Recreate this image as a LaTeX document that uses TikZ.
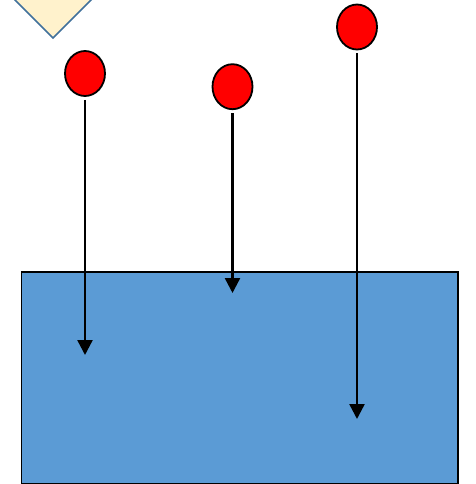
\documentclass[tikz,border=0pt]{standalone}
\usetikzlibrary{arrows.meta}
\usetikzlibrary{shapes.geometric}
\definecolor{cream}{HTML}{FFF2CC}
\definecolor{dborder}{HTML}{41719C}
\definecolor{boxblue}{HTML}{5B9BD5}
\tikzset{
  ball/.style={ellipse, draw=black, line width=1.8pt, fill=red, minimum width=40pt, minimum height=45pt, inner sep=0pt},
  drop/.style={draw=black, line width=2.4pt, -{Triangle[width=15pt,length=15pt]}, shorten <=3pt},
}
\begin{document}
\begin{tikzpicture}[x=1pt,y=-1pt]
\useasboundingbox (0,0) rectangle (475,484);
\clip (0,0) rectangle (475,484);
% diamond (partly cut off at top)
\draw[fill=cream, draw=dborder, line width=1.5pt] (13,-2) -- (53,38) -- (93,-2) -- (53,-42) -- cycle;
% box
\node (box) [draw=black, line width=1.5pt, fill=boxblue, minimum width=436.5pt, minimum height=212pt, inner sep=0pt, anchor=north west] at (20.5,271) {};
% balls
\node (c1) [ball] at (85,73.5) {};
\node (c2) [ball] at (232.5,86.7) {};
\node (c3) [ball] at (357,27) {};
\coordinate (e1) at (85,355);
\coordinate (e2) at (232.5,293);
\coordinate (e3) at (357,419);
\draw[drop] (c1.south) -- (e1);
\draw[drop] (c2.south) -- (e2);
\draw[drop] (c3.south) -- (e3);
\end{tikzpicture}
\end{document}
